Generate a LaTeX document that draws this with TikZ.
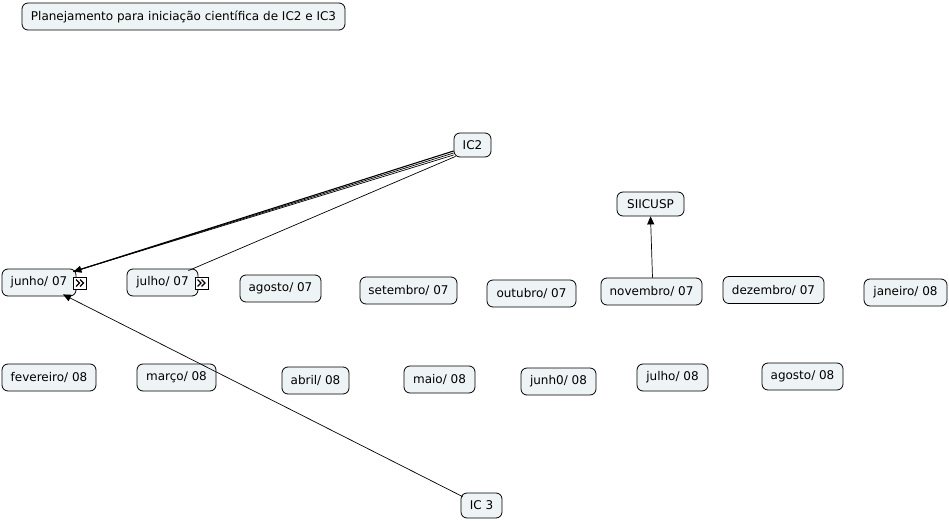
\documentclass[tikz,border=0pt]{standalone}
\usepackage{fontspec}
\setmainfont{DejaVu Sans}
\usetikzlibrary{arrows.meta}
\definecolor{boxfill}{HTML}{EEF3F5}
\tikzset{
  box/.style={draw=black, rounded corners=6pt, fill=boxfill, inner sep=0pt, line width=0.8pt,
    font=\fontsize{12}{14}\selectfont, minimum height=27pt},
  iconbox/.style={draw=black, fill=white, inner sep=0pt, line width=0.6pt, minimum width=13pt, minimum height=12pt},
  chev/.style={draw=black, line width=1.3pt},
  link/.style={draw=black, line width=0.7pt},
  arr/.style={link, -{Triangle[length=8pt,width=7pt]}}
}
\begin{document}
\begin{tikzpicture}[x=1pt,y=-1pt]
\useasboundingbox[fill=white] (0,0) rectangle (949,521);
\node[box, minimum width=323pt] (title) at (183.5,16.5) {Planejamento para iniciação científica de IC2 e IC3};
\node[box, minimum width=37pt, minimum height=24pt] (ic2) at (472.5,145) {IC2};
\node[box, minimum width=67pt, minimum height=24pt] (siicusp) at (650.5,204) {SIICUSP};
\node[box, minimum width=41pt, minimum height=25pt] (ic3) at (481.5,505.5) {IC 3};

\node[box, minimum width=74pt] (jun07) at (39,282.5) {junho/ 07};
\node[box, minimum width=71pt] (jul07) at (162.5,282.5) {julho/ 07};
\node[iconbox] (icA) at (80,283) {};
\node[iconbox] (icB) at (201.5,283) {};
\foreach \n in {icA,icB}{
  \draw[chev] ([xshift=-4pt,yshift=3.5pt]\n.center) -- ([xshift=-0.5pt]\n.center) -- ([xshift=-4pt,yshift=-3.5pt]\n.center);
  \draw[chev] ([xshift=0pt,yshift=3.5pt]\n.center) -- ([xshift=3.5pt]\n.center) -- ([xshift=0pt,yshift=-3.5pt]\n.center);
}
\node[box, minimum width=81pt] (ago07) at (280.5,288.5) {agosto/ 07};
\node[box, minimum width=97pt] (set07) at (408.5,290.5) {setembro/ 07};
\node[box, minimum width=89pt] (out07) at (531.5,293.5) {outubro/ 07};
\node[box, minimum width=101pt] (nov07) at (651.5,291.5) {novembro/ 07};
\node[box, minimum width=101pt] (dez07) at (773.5,290) {dezembro/ 07};
\node[box, minimum width=83pt] (jan08) at (905.5,292.5) {janeiro/ 08};

\node[box, minimum width=94pt] (fev08) at (49,377.5) {fevereiro/ 08};
\node[box, minimum width=79pt] (mar08) at (176.5,377.5) {março/ 08};
\node[box, minimum width=67pt] (abr08) at (315.5,380.5) {abril/ 08};
\node[box, minimum width=71pt] (mai08) at (439.5,379.5) {maio/ 08};
\node[box, minimum width=75pt] (jun08) at (558.5,381.5) {junh0/ 08};
\node[box, minimum width=71pt] (jul08) at (672.5,377.5) {julho/ 08};
\node[box, minimum width=81pt] (ago08) at (802.5,376.5) {agosto/ 08};

% IC2 -> junho/07 (bundle of lines)
\draw[link, line width=1.1pt] ([yshift=-6pt]ic2.west) -- ([xshift=-3pt,yshift=-3pt]jun07.north east);
\draw[link] ([yshift=-8pt]ic2.west) -- ([xshift=-3pt,yshift=-3pt]jun07.north east);
\draw[arr] ([yshift=-10pt]ic2.west) -- ([xshift=-3pt,yshift=-3pt]jun07.north east);
% IC2 -> julho/07
\draw[link] ([xshift=2pt,yshift=1pt]ic2.south west) -- ([xshift=-10pt,yshift=-2pt]jul07.north east);
% IC 3 -> junho/07
\draw[arr] ([xshift=2pt,yshift=-4pt]ic3.north west) -- ([xshift=24pt,yshift=2pt]jun07.south);
% novembro/07 -> SIICUSP
\draw[arr] ([xshift=1pt]nov07.north) -- ([xshift=0pt]siicusp.south);
\end{tikzpicture}
\end{document}
